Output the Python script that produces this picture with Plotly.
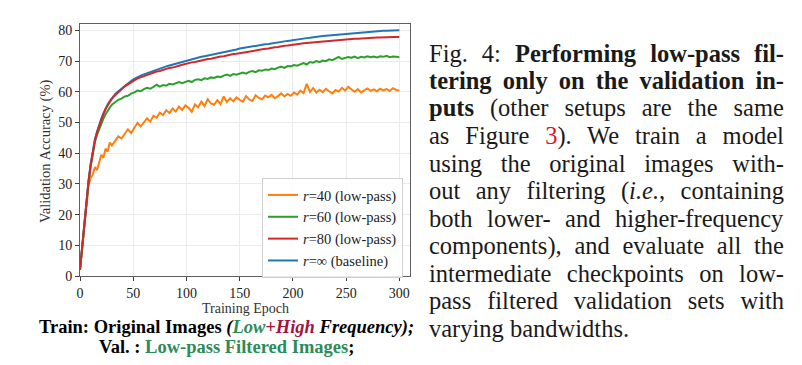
import plotly.graph_objects as go

# ---------------- data ----------------
epochs = [0, 2, 4, 6, 8, 10, 12, 14, 16, 18, 20, 22, 24, 26, 28, 30] + list(range(33, 301, 3))

acc_r40 = [2.0, 9.0, 16.5, 24.0, 29.5, 32.0, 33.0, 35.5, 34.5, 37.0, 39.5, 38.5, 41.5, 40.5, 43.5, 42.5,
           44.0, 45.5, 44.8, 46.5, 47.8, 46.6,
           48.5, 49.9, 48.7, 50.2,
           51.4, 50.3, 52.2, 51.6, 53.2,
           52.4, 54.0, 53.1, 54.6, 53.6, 55.2, 54.1, 55.6,
           54.8, 53.5, 55.9, 55.0, 56.8, 55.4, 57.6, 56.2, 55.8,
           57.3, 56.0, 58.5, 56.7, 57.9, 56.9, 58.2, 57.4,
           56.8, 58.6, 57.5, 57.0, 58.9, 58.0, 57.6, 58.8,
           58.2, 59.0, 57.9, 58.6, 59.5, 58.5, 59.3, 58.7, 59.8,
           59.1, 60.4, 59.6, 62.6, 60.0, 61.2, 59.8, 60.7,
           59.9, 61.0, 60.2, 59.5, 60.6, 60.1, 61.3, 60.4,
           61.6, 60.8, 60.0, 60.9, 59.8, 60.5, 61.1, 60.3, 60.8,
           60.2, 61.0, 60.5, 60.9, 60.3, 61.2, 60.6, 60.4]

acc_r60 = [2.0, 9.3, 16.8, 24.4, 30.5, 35.6, 40.2, 43.6, 46.0, 48.0, 49.8, 51.3, 52.7, 54.0, 54.9, 55.8,
           56.6, 57.4, 57.8, 58.5, 58.7, 59.4,
           59.8, 60.4, 60.2, 60.9,
           61.3, 61.0, 61.6, 62.3, 61.7,
           62.2, 62.0, 62.6, 62.4, 62.9, 63.2, 62.8, 63.3,
           63.6, 63.2, 63.9, 64.1, 63.8, 64.4, 64.2, 64.7, 64.5,
           65.0, 64.8, 65.3, 65.6, 65.2, 65.8, 65.6, 66.0,
           66.3, 65.9, 66.5, 66.8, 66.4, 67.0, 66.9, 67.3,
           67.1, 67.6, 67.4, 67.9, 68.2, 67.8, 68.4, 68.3, 68.7,
           68.5, 69.0, 69.4, 68.9, 69.7, 69.5, 70.0, 69.7,
           70.2, 70.0, 70.6, 70.3, 70.8, 71.4, 70.7, 71.0,
           71.3, 71.1, 71.5, 71.0, 71.4, 71.2, 71.6, 71.3, 71.5,
           71.2, 71.6, 71.4, 71.7, 71.3, 71.5, 71.4, 71.3]

acc_r80 = [2.0, 9.3, 16.8, 24.6, 30.8, 36.0, 40.6, 44.2, 46.8, 49.0, 51.1, 52.7, 54.4, 55.6, 56.8, 57.8,
           58.9, 60.0, 60.8, 61.8, 62.4, 63.2,
           63.8, 64.4, 64.7, 65.1,
           65.4, 65.9, 66.1, 66.6, 66.8,
           67.2, 67.4, 67.8, 67.9, 68.3, 68.5, 68.8, 69.1,
           69.2, 69.6, 69.7, 70.0, 70.2, 70.4, 70.7, 70.8, 71.1,
           71.2, 71.5, 71.6, 71.9, 72.0, 72.3, 72.4, 72.6,
           72.8, 73.0, 73.1, 73.4, 73.5, 73.6, 73.9, 74.0,
           74.1, 74.4, 74.5, 74.6, 74.9, 75.0, 75.1, 75.3, 75.4,
           75.5, 75.7, 75.8, 75.9, 76.1, 76.1, 76.3, 76.3,
           76.5, 76.6, 76.6, 76.8, 76.9, 76.9, 77.0, 77.1,
           77.1, 77.2, 77.3, 77.3, 77.4, 77.5, 77.5, 77.6, 77.6,
           77.7, 77.7, 77.8, 77.8, 77.8, 77.9, 77.9, 77.9]

acc_base = [2.0, 9.5, 17.0, 25.0, 31.0, 36.5, 41.0, 44.5, 47.0, 49.3, 51.3, 53.0, 54.6, 55.9, 57.0, 58.0,
            59.2, 60.2, 61.1, 62.0, 62.8, 63.5,
            64.2, 64.8, 65.3, 65.7,
            66.1, 66.5, 66.9, 67.3, 67.6,
            68.0, 68.3, 68.6, 68.9, 69.2, 69.5, 69.8, 70.1,
            70.4, 70.6, 70.9, 71.1, 71.4, 71.6, 71.8, 72.0, 72.3,
            72.5, 72.7, 72.9, 73.2, 73.4, 73.6, 73.8, 74.1,
            74.3, 74.4, 74.6, 74.8, 75.0, 75.1, 75.3, 75.5,
            75.6, 75.8, 75.9, 76.1, 76.3, 76.4, 76.6, 76.7, 76.9,
            77.0, 77.2, 77.3, 77.5, 77.6, 77.8, 77.9, 78.0,
            78.2, 78.3, 78.4, 78.5, 78.6, 78.7, 78.8, 78.9,
            79.0, 79.1, 79.2, 79.3, 79.4, 79.5, 79.6, 79.6, 79.7,
            79.8, 79.8, 79.9, 79.9, 80.0, 80.0, 80.1, 80.1]

series_names = ["<i>r</i>=40 (low-pass)", "<i>r</i>=60 (low-pass)",
                "<i>r</i>=80 (low-pass)", "<i>r</i>=\u221e (baseline)"]
x_ticks = [0, 50, 100, 150, 200, 250, 300]
y_ticks = [0, 10, 20, 30, 40, 50, 60, 70, 80]

caption_lines = [
    "Fig. 4: <b>Performing low-pass fil-</b>",
    "<b>tering only on the validation in-</b>",
    "<b>puts</b> (other setups are the same",
    "as Figure <span style='color:#e8141b'>3</span>). We train a model",
    "using the original images with-",
    "out any filtering (<i>i.e.</i>, containing",
    "both lower- and higher-frequency",
    "components), and evaluate all the",
    "intermediate checkpoints on low-",
    "pass filtered validation sets with",
    "varying bandwidths.",
]

# ---------------- figure ----------------
W, H = 802, 365
L, R, T, B = 80, 410, 24, 276  # plot area in pixels
pw, ph = R - L, B - T


def px2paper(x, y):
    return (x - L) / pw, (B - y) / ph


serif = "Liberation Serif"
colors = ["#ff7f0e", "#2ca02c", "#d62728", "#1f77b4"]
series = [acc_r40, acc_r60, acc_r80, acc_base]

fig = go.Figure()
# draw order: orange, green, blue, red (red over blue), legend order 40,60,80,inf
for idx in [0, 1, 3, 2]:
    fig.add_trace(go.Scatter(
        x=epochs, y=series[idx], mode="lines", name=series_names[idx],
        line=dict(color=colors[idx], width=2), legendrank=idx + 1,
    ))

axis_common = dict(
    showline=True, linecolor="#606060", linewidth=1, mirror=True,
    ticks="outside", ticklen=4, tickcolor="#404040", tickwidth=1,
    showgrid=True, gridcolor="#ebebeb", gridwidth=0.8, zeroline=False,
    tickfont=dict(family=serif, size=14, color="#222"),
)
fig.update_xaxes(range=[0, 310], tickvals=x_ticks, **axis_common)
fig.update_yaxes(range=[0, 82.1], tickvals=y_ticks, **axis_common)

lx, ly = px2paper(403, 178)
fig.update_layout(
    width=W, height=H,
    margin=dict(l=L, r=W - R, t=T, b=H - B, pad=0),
    paper_bgcolor="white", plot_bgcolor="white",
    font=dict(family=serif, color="#222"),
    legend=dict(x=lx, y=ly, xanchor="right", yanchor="top",
                bgcolor="rgba(255,255,255,0.85)", bordercolor="#d0d0d0", borderwidth=1,
                font=dict(family=serif, size=14.5, color="#222"),
                tracegroupgap=0, itemwidth=30),
    showlegend=True,
)

annotations = []
# axis titles
x0, y0 = px2paper(245, 308.5)
annotations.append(dict(x=x0, y=y0, xref="paper", yref="paper", text="Training Epoch",
                        showarrow=False, font=dict(family=serif, size=14, color="#333"),
                        xanchor="center", yanchor="middle"))
x0, y0 = px2paper(45, 151)
annotations.append(dict(x=x0, y=y0, xref="paper", yref="paper", text="Validation Accuracy (%)",
                        showarrow=False, textangle=-90,
                        font=dict(family=serif, size=14.5, color="#333"),
                        xanchor="center", yanchor="middle"))
# bold captions under the chart
green_c = "#2e8b57"
crimson = "#a0153e"
x0, y0 = px2paper(226, 327)
annotations.append(dict(
    x=x0, y=y0, xref="paper", yref="paper", showarrow=False,
    text=("<b>Train: Original Images <i>(<span style='color:%s'>Low</span>"
          "<span style='color:%s'>+High</span> Frequency);</i></b>") % (green_c, crimson),
    font=dict(family=serif, size=18.5, color="black"), xanchor="center", yanchor="middle"))
x0, y0 = px2paper(226, 346.5)
annotations.append(dict(
    x=x0, y=y0, xref="paper", yref="paper", showarrow=False,
    text="<b>Val. : <span style='color:%s'>Low-pass Filtered Images</span>;</b>" % green_c,
    font=dict(family=serif, size=18.5, color="black"), xanchor="center", yanchor="middle"))

first_caption_idx = len(annotations)
for i, line in enumerate(caption_lines):
    x0, y0 = px2paper(428, 53.5 + 27.45 * i)
    annotations.append(dict(
        x=x0, y=y0, xref="paper", yref="paper", showarrow=False, text=line,
        align="left", xanchor="left", yanchor="middle", borderpad=0,
        font=dict(family=serif, size=24.5, color="#1a1a1a")))
fig.update_layout(annotations=annotations)

justify_idx = list(range(first_caption_idx, first_caption_idx + len(caption_lines) - 1))
post = """
document.body.style.margin = '0';
document.body.style.padding = '0';
var gd = document.getElementById('{plot_id}');
var TARGET = %d;
var JUST = %s;
gd.querySelectorAll('g.annotation').forEach(function(g){
  var i = +g.getAttribute('data-index');
  if (JUST.indexOf(i) < 0) return;
  var t = g.querySelector('text.annotation-text');
  if (!t) return;
  var n = t.textContent.split(' ').length - 1;
  if (n < 1) return;
  var w = t.getBBox().width;
  t.style.wordSpacing = ((TARGET - w) / n) + 'px';
});
""" % (783 - 428, str(justify_idx))

fig.write_html("out.html", post_script=post, config={"displayModeBar": False})
